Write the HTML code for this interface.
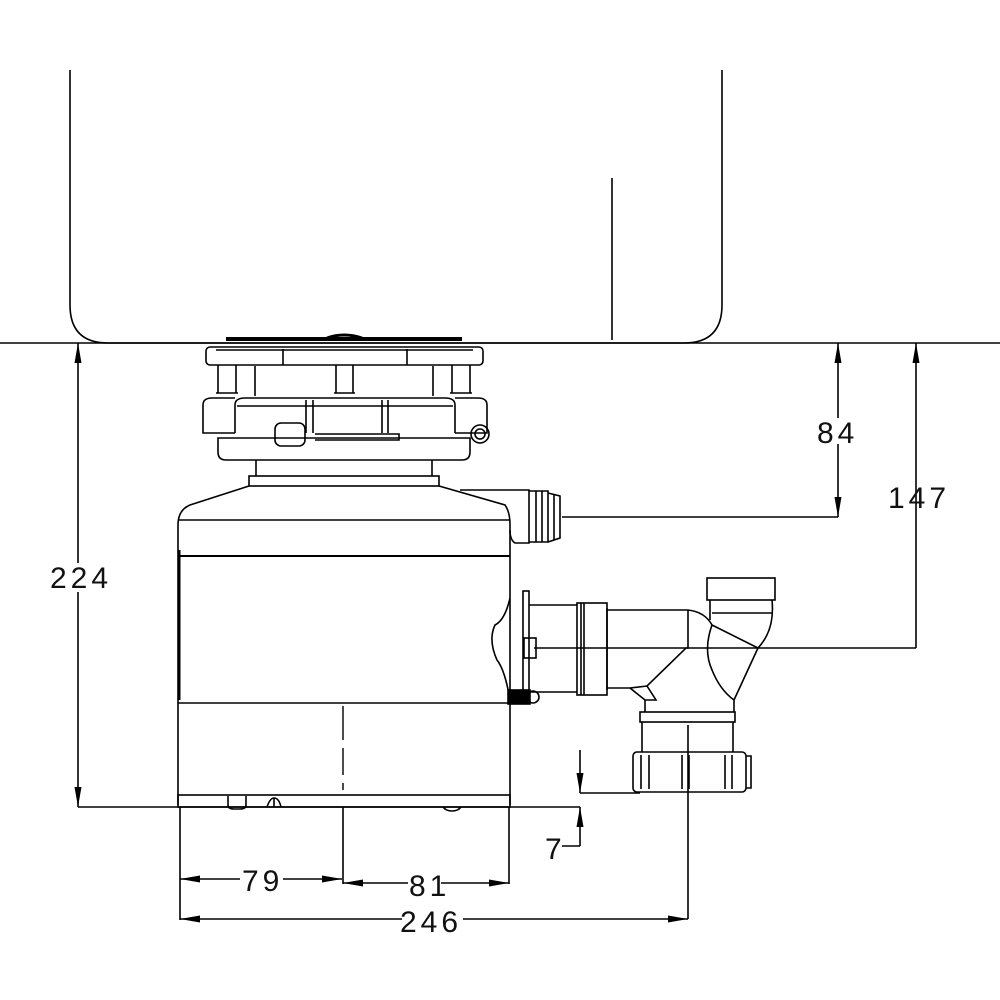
<!DOCTYPE html>
<html><head><style>html,body{margin:0;padding:0;background:#fff}svg{display:block}
text{font-family:"Liberation Sans",sans-serif;font-size:30px;fill:#111;font-weight:normal;letter-spacing:4px}</style></head>
<body>
<svg width="1000" height="1000" viewBox="0 0 1000 1000" xmlns="http://www.w3.org/2000/svg">
<defs>
<marker id="b" viewBox="0 0 20 8" refX="20" refY="4" markerWidth="26" markerHeight="8" orient="auto-start-reverse" markerUnits="userSpaceOnUse"><path d="M0,0.5 L20,4 L0,7.5z" fill="#000"/></marker>
</defs>
<g fill="none" stroke="#000" stroke-width="1.6">
<path d="M70,70 V305 Q70,343 108,343 H684 Q722,343 722,305 V70"/>
<line x1="0" y1="343" x2="1000" y2="343"/>
<line x1="612" y1="178" x2="612" y2="340"/>
<path d="M226,339 H462" stroke-width="4"/>
<path d="M327,338 Q344,332 362,338" stroke-width="3"/>
<rect x="206" y="347" width="277" height="18" rx="4"/>
<line x1="216" y1="350" x2="473" y2="350"/>
<line x1="283" y1="349" x2="283" y2="365"/><line x1="407" y1="349" x2="407" y2="365"/>
<path d="M218,365 V393 M236,365 V393 M255,366 V396 M336,365 V393 M353,365 V393 M433,366 V396 M452,365 V393 M470,365 V393"/>
<path d="M216,393 H238 M334,393 H355 M450,393 H472"/>
<path d="M235,433 H203 V405 Q203,398 212,398 H235 M455,398 H478 Q487,398 487,405 V433 H455"/>
<path d="M235,433 V405 Q235,398 245,398 H445 Q455,398 455,405 V433"/>
<path d="M237,406 H453 M306,400 V433 M313,400 V433 M382,400 V433 M388,400 V433"/>
<path d="M218,438 H470 V452 Q470,460 462,460 H226 Q218,460 218,452 Z"/>
<rect x="275" y="423" width="30" height="23" rx="6"/>
<path d="M315,440 H399 V434 H315"/>
<circle cx="480" cy="434" r="9"/><circle cx="480" cy="434" r="5"/>
<path d="M256,460 V476 M432,460 V476"/>
<rect x="249" y="476" width="190" height="10"/>
<path d="M249,486 L190,505 Q178,510 178,525 V805 M439,486 L505,505 Q510,512 510,525 V805"/>
<line x1="178" y1="520" x2="510" y2="520"/>
<line x1="178" y1="556" x2="510" y2="556" stroke-width="2"/>
<line x1="179" y1="550" x2="179" y2="700" stroke-width="3"/>
<line x1="178" y1="703" x2="510" y2="703"/>
<rect x="178" y="795" width="332" height="12"/>
<path d="M228,796 V805 Q228,809 234,809 H240 Q246,809 246,805 V796 M443,807 Q446,811 452,811 Q458,811 461,807 M267,807 Q270,798 274,798 Q279,798 281,807 M274,798 V807"/>
<path d="M343,706 V740 M343,748 V775 M343,783 V790" stroke-width="1.4"/>
<path d="M460,490 H529 V543 H515 Q510,540 510,530"/>
<path d="M529,491 L548,491 V542 H529 M536,491 V542 M542,491 V542 M548,493 L560,496 V538 L548,542 M554,494 V540"/>
<path d="M510,598 Q505,620 495,625 Q488,640 497,660 Q505,670 510,700"/>
<rect x="523" y="591" width="6" height="112"/>
<rect x="524" y="638" width="12" height="20"/>
<rect x="508" y="690" width="22" height="14" fill="#000"/>
<circle cx="533" cy="697" r="6"/>
<path d="M529,605 H577 M529,692 H577"/>
<rect x="577" y="603" width="30" height="92"/>
<path d="M581,603 V695 M584,603 V695 M607,608 V690"/>
<path d="M607,610 H688 Q705,612 712,625 L758,648 L734,700 M607,688 H630 L647,686 L686,648 H688 V610 M712,625 Q703,650 712,670 Q720,690 734,700 V712 M647,686 L656,700 H645 V712 M630,688 L645,700"/>
<rect x="707" y="578" width="68" height="22"/>
<path d="M710,600 L710,620 M772,600 Q775,630 758,648 M712,613 H772"/>
<rect x="640" y="712" width="95" height="10"/>
<path d="M642,722 V752 M733,722 V752"/>
<rect x="633" y="752" width="113" height="40" rx="4"/>
<path d="M641,755 V789 M649,755 V789 M682,755 V789 M689,755 V789 M725,755 V789 M732,755 V789 M746,756 H751 V788 H746"/>
<path d="M688,725 V919"/>
<line x1="78" y1="343" x2="78" y2="563" marker-start="url(#b)"/>
<line x1="78" y1="592" x2="78" y2="807" marker-end="url(#b)"/>
<line x1="78" y1="807" x2="580" y2="807"/>
<line x1="838" y1="343" x2="838" y2="418" marker-start="url(#b)"/>
<line x1="838" y1="444" x2="838" y2="517" marker-end="url(#b)"/>
<line x1="562" y1="517" x2="838" y2="517"/>
<line x1="916" y1="343" x2="916" y2="648" marker-start="url(#b)"/>
<line x1="534" y1="648" x2="916" y2="648"/>
<line x1="580" y1="750" x2="580" y2="793" marker-end="url(#b)"/>
<line x1="580" y1="793" x2="640" y2="793"/>
<line x1="580" y1="846" x2="580" y2="807" marker-end="url(#b)"/>
<line x1="562" y1="846" x2="580" y2="846"/>
<line x1="180" y1="807" x2="180" y2="920"/>
<line x1="343" y1="807" x2="343" y2="884"/>
<line x1="509" y1="807" x2="509" y2="884"/>
<line x1="180" y1="879" x2="240" y2="879" marker-start="url(#b)"/>
<line x1="283" y1="879" x2="342" y2="879" marker-end="url(#b)"/>
<line x1="343" y1="883" x2="408" y2="883" marker-start="url(#b)"/>
<line x1="441" y1="883" x2="509" y2="883" marker-end="url(#b)"/>
<line x1="180" y1="919" x2="402" y2="919" marker-start="url(#b)"/>
<line x1="463" y1="919" x2="688" y2="919" marker-end="url(#b)"/>
</g>
<text x="50" y="588">224</text>
<text x="817" y="443">84</text>
<text x="888" y="508">147</text>
<text x="242" y="891">79</text>
<text x="409" y="896">81</text>
<text x="400" y="932">246</text>
<text x="545" y="859">7</text>
</svg>
</body></html>
